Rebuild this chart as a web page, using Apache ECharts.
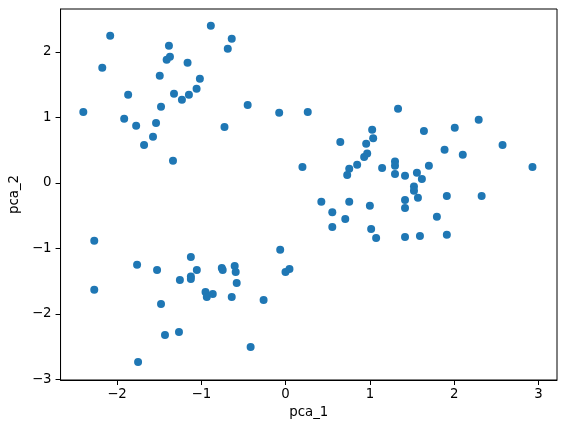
<!DOCTYPE html>
<html><head><meta charset="utf-8">
<script src="https://cdn.jsdelivr.net/npm/echarts@6/dist/echarts.min.js"></script>
<style>html,body{margin:0;padding:0;background:#fff}#c{width:565px;height:432px}</style>
</head><body><div id="c"></div>
<script>
const xLabel = 'pca_1';
const yLabel = 'pca_2';
const xTicks = [-2, -1, 0, 1, 2, 3];
const yTicks = [-3, -2, -1, 0, 1, 2];
const pca1 = [
  -0.887,-2.081,-0.639,-0.686,-1.384,-1.372,-1.411,-1.163,-2.175,-1.493,
  -1.017,-1.056,-1.868,-1.324,-1.147,-1.230,-0.450,-1.478,-2.400,-0.076,
  0.263,-1.915,-1.773,-1.537,-0.725,-1.573,-1.679,-1.336,0.200,
  1.334,2.291,1.027,1.641,2.007,1.039,0.649,0.956,2.574,1.886,
  0.968,0.932,2.102,0.755,0.849,1.145,1.298,1.298,1.700,2.929,
  0.731,1.298,1.417,1.558,1.617,1.523,1.523,1.570,1.913,2.326,
  1.417,1.417,0.424,0.755,1.000,0.554,0.708,1.795,0.554,1.015,
  1.074,1.417,1.594,1.913,
  -2.270,-2.270,-1.762,-1.525,-1.124,-1.053,-1.254,-1.124,-1.124,-0.757,
  -0.746,-0.604,-0.592,-0.580,-0.950,-0.935,-0.864,-0.639,-0.261,-0.064,
  -0.001,0.046,-1.478,-1.431,-1.265,-0.415,-1.750
];
const pca2 = [
  2.398,2.245,2.199,2.047,2.093,1.925,1.879,1.833,1.757,1.634,
  1.589,1.436,1.344,1.359,1.344,1.268,1.191,1.161,1.084,1.069,
  1.084,0.978,0.871,0.916,0.855,0.703,0.580,0.336,0.244,
  1.130,0.962,0.810,0.794,0.840,0.681,0.626,0.596,0.580,0.504,
  0.448,0.397,0.428,0.214,0.275,0.229,0.325,0.260,0.260,0.244,
  0.122,0.137,0.107,0.153,0.061,-0.057,-0.122,-0.229,-0.199,-0.199,
  -0.260,-0.382,-0.290,-0.290,-0.351,-0.449,-0.550,-0.519,-0.672,-0.703,
  -0.840,-0.825,-0.810,-0.794,
  -0.885,-1.633,-1.252,-1.329,-1.130,-1.329,-1.482,-1.431,-1.466,-1.298,
  -1.329,-1.268,-1.359,-1.527,-1.665,-1.741,-1.695,-1.741,-1.787,-1.023,
  -1.359,-1.314,-1.848,-2.322,-2.276,-2.505,-2.734
];
const pts = pca1.map((x, i) => [x, pca2[i]]);
const fmt = v => String(v).replace('-', '\u2212');
const font = 'DejaVu Sans';
const chart = echarts.init(document.getElementById('c'), null, {renderer: 'canvas'});
chart.setOption({
  animation: false,
  backgroundColor: '#fff',
  grid: {left: 60, right: 8, top: 9, bottom: 52, show: true, borderColor: '#000', borderWidth: 1, backgroundColor: 'transparent'},
  xAxis: {
    type: 'value', min: -2.67, max: 3.22,
    name: xLabel, nameLocation: 'middle', nameGap: 24,
    nameTextStyle: {fontFamily: font, fontSize: 13.33, color: '#000'},
    axisLine: {show: true, onZero: false, lineStyle: {color: '#000', width: 1}},
    axisTick: {show: true, length: 5, inside: false, customValues: xTicks, lineStyle: {color: '#000'}},
    axisLabel: {customValues: xTicks, formatter: fmt, fontFamily: font, fontSize: 13.33, color: '#000', margin: 8},
    splitLine: {show: false}
  },
  yAxis: {
    type: 'value', min: -3.01, max: 2.655,
    name: yLabel, nameLocation: 'middle', nameGap: 33,
    nameTextStyle: {fontFamily: font, fontSize: 13.33, color: '#000'},
    axisLine: {show: true, onZero: false, lineStyle: {color: '#000', width: 1}},
    axisTick: {show: true, length: 5, inside: false, customValues: yTicks, lineStyle: {color: '#000'}},
    axisLabel: {customValues: yTicks, formatter: fmt, fontFamily: font, fontSize: 13.33, color: '#000', margin: 9},
    splitLine: {show: false}
  },
  series: [{
    type: 'scatter', data: pts, symbolSize: 8,
    itemStyle: {color: '#1f77b4', opacity: 1}
  }]
});
</script></body></html>
